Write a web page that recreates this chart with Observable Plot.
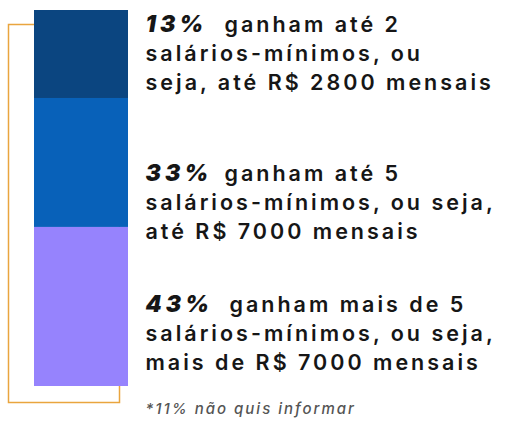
<!DOCTYPE html>
<html><head><meta charset="utf-8">
<script src="https://cdn.jsdelivr.net/npm/d3@7"></script>
<script src="https://cdn.jsdelivr.net/npm/@observablehq/plot@0.6"></script>
<style>html,body{margin:0;padding:0;background:#fff}</style>
</head><body><div id="chart"></div>
<script>
// Data
const categories = ["até 2 salários-mínimos", "até 5 salários-mínimos", "mais de 5 salários-mínimos"];
const percents = [13, 33, 43];
// segment lengths as drawn in the bar (share of the full bar)
const barLengths = [23.4, 34.3, 42.3];
const firstLines = ["ganham até 2", "ganham até 5", "ganham mais de 5"];
const restLines = [
  ["salários-mínimos, ou", "seja, até R$ 2800 mensais"],
  ["salários-mínimos, ou seja,", "até R$ 7000 mensais"],
  ["salários-mínimos, ou seja,", "mais de R$ 7000 mensais"]
];
const footnote = "*11% não quis informar";

const rows = categories.map((c, i) => ({group: "renda", category: c, percent: percents[i], length: barLengths[i]}));

const FONT = "Inter, 'Noto Sans', sans-serif";
const bodySize = 21.5, numSize = 23, noteSize = 15, lineGap = 29;
const baselines = [31.7, 180.7, 311.7];
const restDx = [224, 224, 229];

const textMarks = [];
categories.forEach((c, i) => {
  const b = baselines[i];
  textMarks.push(Plot.text([percents[i] + "%"], {
    text: d => d, frameAnchor: "top-left", textAnchor: "start", lineAnchor: "top",
    dx: 145, dy: b - 0.71 * numSize, fontSize: numSize, fontWeight: 900, fontStyle: "italic",
    fontFamily: FONT, fill: "#161616"
  }));
  textMarks.push(Plot.text([firstLines[i]], {
    text: d => d, frameAnchor: "top-left", textAnchor: "start", lineAnchor: "top",
    dx: restDx[i], dy: b - 0.71 * bodySize, fontSize: bodySize, fontWeight: 600,
    fontFamily: FONT, fill: "#161616"
  }));
  restLines[i].forEach((line, j) => {
    textMarks.push(Plot.text([line], {
      text: d => d, frameAnchor: "top-left", textAnchor: "start", lineAnchor: "top",
      dx: 145, dy: b + (j + 1) * lineGap - 0.71 * bodySize, fontSize: bodySize, fontWeight: 600,
      fontFamily: FONT, fill: "#161616"
    }));
  });
});
textMarks.push(Plot.text([footnote], {
  text: d => d, frameAnchor: "top-left", textAnchor: "start", lineAnchor: "top",
  dx: 145, dy: 413 - 0.71 * noteSize, fontSize: noteSize, fontWeight: 500, fontStyle: "italic",
  fontFamily: FONT, fill: "#555"
}));

const chart = Plot.plot({
  width: 510, height: 423, margin: 0,
  style: {background: "#fff", fontFamily: FONT},
  x: {type: "band", domain: ["renda"], range: [34, 128], padding: 0, axis: null},
  y: {domain: [0, 100], range: [386, 10], axis: null},
  color: {domain: categories, range: ["#0b4580", "#0861b9", "#9683fd"]},
  marks: [
    Plot.frame({stroke: "#e9a53e", strokeWidth: 1.5, insetLeft: 8, insetTop: 24, insetRight: 391, insetBottom: 21}),
    Plot.barY(rows, {x: "group", y: "length", fill: "category", reverse: true}),
    ...textMarks
  ]
});
// letter spacing to approximate the wide geometric typeface of the original
const spacing = {[bodySize]: "3px", [numSize]: "4px", [noteSize]: "2px"};
d3.select(chart).selectAll("g[aria-label='text']").each(function () {
  const fs = this.getAttribute("font-size");
  if (spacing[fs]) this.style.letterSpacing = spacing[fs];
});
document.getElementById("chart").appendChild(chart);
</script>
</body></html>
